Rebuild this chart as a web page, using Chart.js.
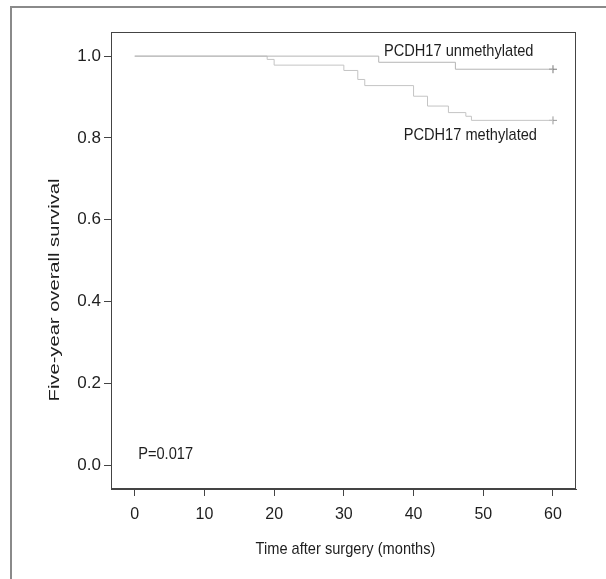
<!DOCTYPE html>
<html>
<head>
<meta charset="utf-8">
<script src="https://cdn.jsdelivr.net/npm/chart.js@4.4.0/dist/chart.umd.min.js"></script>
<style>
  html, body { margin: 0; padding: 0; background: #fff; }
  .frame {
    position: absolute; left: 10px; top: 6px; width: 596px; height: 573px;
    border-left: 2px solid #8a8a8a; border-top: 2px solid #8a8a8a;
    box-sizing: border-box;
  }
  .wrap { position: absolute; left: 0; top: 0; width: 606px; height: 579px; }
</style>
</head>
<body>
<div class="frame"></div>
<div class="wrap"><canvas id="myChart" width="606" height="579"></canvas></div>
<script>
// Kaplan-Meier steps (months, survival after the event)
const unmethTime = [0, 35, 46, 60];
const unmethSurv = [1.0, 0.985, 0.968, 0.968];
const methTime = [0, 19, 20, 30, 32, 33, 40, 42, 45, 47.5, 48.3, 60];
const methSurv = [1.0, 0.992, 0.978, 0.965, 0.943, 0.928, 0.902, 0.878, 0.862, 0.853, 0.843, 0.843];

const xTicks = [0, 10, 20, 30, 40, 50, 60];
const yTicks = [0.0, 0.2, 0.4, 0.6, 0.8, 1.0];

const labelUnmeth = "PCDH17 unmethylated";
const labelMeth = "PCDH17 methylated";
const pValueText = "P=0.017";
const xTitle = "Time after surgery (months)";
const yTitle = "Five-year overall survival";

const FONT = "'Liberation Sans Narrow', 'Liberation Sans', sans-serif";
const axisColor = "#444";
const textColor = "#1e1e1e";

function toPoints(xs, ys) {
  return xs.map((x, i) => ({ x: x, y: ys[i] }));
}

// the original figure looks stretched vertically: tall, narrow lettering
function tallText(ctx, text, x, y, align, size, squeeze) {
  ctx.save();
  ctx.translate(x, y);
  ctx.scale(squeeze, 1);
  ctx.textAlign = align;
  ctx.textBaseline = "middle";
  ctx.font = size + "px " + FONT;
  ctx.fillText(text, 0, 0);
  ctx.restore();
}

const boxPlugin = {
  id: "boxAndText",
  afterDraw(chart) {
    const { ctx, chartArea: a, scales } = chart;
    ctx.save();
    ctx.strokeStyle = axisColor;
    ctx.lineWidth = 1;
    ctx.strokeRect(a.left + 0.5, a.top + 0.5, a.right - a.left - 1, a.bottom - a.top - 1);

    ctx.fillStyle = textColor;
    const sx = scales.x, sy = scales.y;
    tallText(ctx, labelUnmeth, sx.getPixelForValue(57.2), sy.getPixelForValue(1.013), "right", 17, 0.86);
    tallText(ctx, labelMeth, sx.getPixelForValue(57.7), sy.getPixelForValue(0.806), "right", 17, 0.86);
    tallText(ctx, pValueText, sx.getPixelForValue(0.5), sy.getPixelForValue(0.028), "left", 17, 0.86);
    tallText(ctx, xTitle, (a.left + a.right) / 2 + 2, 549, "center", 17, 0.86);

    // y title: stretched along its length, sits below the plot middle
    ctx.translate(55, 290);
    ctx.rotate(-Math.PI / 2);
    tallText(ctx, yTitle, 0, 0, "center", 15.5, 1.3);
    ctx.restore();
  }
};

new Chart(document.getElementById("myChart"), {
  type: "line",
  data: {
    datasets: [
      {
        label: labelUnmeth,
        data: toPoints(unmethTime, unmethSurv),
        stepped: "before",
        borderColor: "#b5b5b5",
        borderWidth: 1,
        pointRadius: 0,
        fill: false,
      },
      {
        label: labelMeth,
        data: toPoints(methTime, methSurv),
        stepped: "before",
        borderColor: "#c4c4c4",
        borderWidth: 1,
        pointRadius: 0,
        fill: false,
      },
      {
        label: "censored",
        data: [
          { x: unmethTime[unmethTime.length - 1], y: unmethSurv[unmethSurv.length - 1] },
          { x: methTime[methTime.length - 1], y: methSurv[methSurv.length - 1] },
        ],
        showLine: false,
        pointStyle: "cross",
        pointRadius: 4,
        borderColor: ["#777", "#999"],
        borderWidth: 1,
      },
    ],
  },
  options: {
    responsive: false,
    animation: false,
    layout: { padding: { left: 0, top: 32, right: 30, bottom: 0 } },
    plugins: {
      legend: { display: false },
      tooltip: { enabled: false },
    },
    scales: {
      x: {
        type: "linear",
        min: -3.4,
        max: 63.3,
        afterBuildTicks: (scale) => { scale.ticks = xTicks.map((v) => ({ value: v })); },
        afterFit: (scale) => { scale.height = 90; },
        grid: {
          drawOnChartArea: false,
          drawTicks: true,
          tickLength: 7,
          color: axisColor,
        },
        border: { display: true, color: axisColor },
        ticks: {
          color: textColor,
          padding: 9,
          maxRotation: 0,
          font: { family: FONT, size: 16 },
        },
      },
      y: {
        type: "linear",
        min: -0.058,
        max: 1.059,
        afterBuildTicks: (scale) => { scale.ticks = yTicks.map((v) => ({ value: v })); },
        afterFit: (scale) => { scale.width = 111; },
        grid: {
          drawOnChartArea: false,
          drawTicks: true,
          tickLength: 7,
          color: axisColor,
        },
        border: { display: true, color: axisColor },
        ticks: {
          color: textColor,
          padding: 3,
          font: { family: FONT, size: 17 },
          callback: (v) => Number(v).toFixed(1),
        },
      },
    },
  },
  plugins: [boxPlugin],
});
</script>
</body>
</html>
